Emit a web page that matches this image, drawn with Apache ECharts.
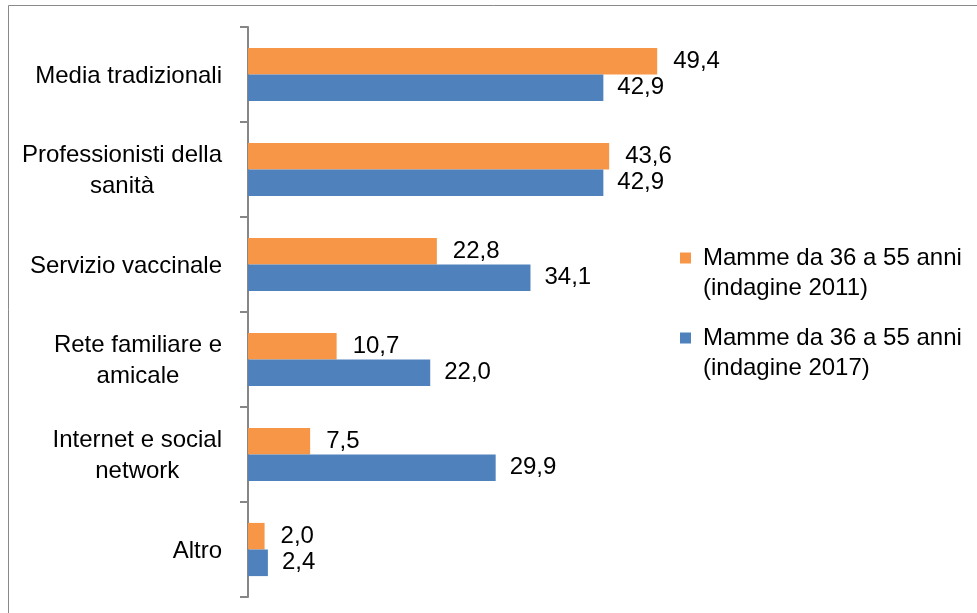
<!DOCTYPE html>
<html>
<head>
<meta charset="utf-8">
<script src="https://cdn.jsdelivr.net/npm/echarts@6/dist/echarts.min.js"></script>
<style>
    html, body { margin: 0; padding: 0; background: #fff; }
    #chart { width: 977px; height: 613px; }
</style>
</head>
<body>
<div id="chart"></div>
<script>
    // categories, top to bottom
    var categories = [
        'Media tradizionali',
        'Professionisti della\nsanità',
        'Servizio vaccinale',
        'Rete familiare e\namicale',
        'Internet e social\nnetwork',
        'Altro'
    ];
    var values2011 = [49.4, 43.6, 22.8, 10.7, 7.5, 2.0];
    var values2017 = [42.9, 42.9, 34.1, 22.0, 29.9, 2.4];
    var name2011 = 'Mamme da 36 a 55 anni\n(indagine 2011)';
    var name2017 = 'Mamme da 36 a 55 anni\n(indagine 2017)';

    var FONT = 'Liberation Sans';
    var FS = 24;
    var orange = '#F79646';
    var blue = '#4F81BD';

    function fmtNum(p) {
        return p.value.toFixed(1).replace('.', ',');
    }

    // blank first line so the icon sits next to the first line of text
    function legendItem(name, top) {
        return {
            left: 680, top: top,
            padding: 0,
            orient: 'vertical',
            data: [name],
            icon: 'rect', itemWidth: 11, itemHeight: 11,
            formatter: function (n) { return '\n' + n; },
            textStyle: { fontFamily: FONT, fontSize: FS, color: '#000', lineHeight: 30, padding: [0, 0, 0, 7] }
        };
    }

    var myChart = echarts.init(document.getElementById('chart'));
    myChart.setOption({
        animation: false,
        backgroundColor: '#fff',
        textStyle: { fontFamily: FONT },
        graphic: [{
            type: 'rect',
            shape: { x: 8.5, y: 5.5, width: 1000, height: 700 },
            style: { fill: 'none', stroke: '#898989', lineWidth: 1 },
            z: 0
        }],
        grid: { left: 248, right: 232, top: 27, bottom: 16 },
        legend: [legendItem(name2011, 213), legendItem(name2017, 293)],
        xAxis: {
            type: 'value',
            min: 0,
            max: 60,
            show: false
        },
        yAxis: {
            type: 'category',
            inverse: true,
            data: categories,
            axisLine: { lineStyle: { color: '#868686', width: 2 } },
            axisTick: { show: true, length: 8, lineStyle: { color: '#868686', width: 2 } },
            axisLabel: {
                margin: 26,
                formatter: function (v) {
                    return v.split('\n').map(function (s) { return '{c|' + s + '}'; }).join('\n');
                },
                rich: {
                    c: { fontFamily: FONT, fontSize: FS, color: '#000', lineHeight: 31, align: 'center', padding: [3, 0, 0, 0] }
                }
            }
        },
        series: [{
            name: name2011,
            type: 'bar',
            data: values2011,
            barGap: '0%',
            barCategoryGap: '44%',
            itemStyle: { color: orange },
            label: { show: true, position: 'right', distance: 16, formatter: fmtNum,
                fontFamily: FONT, fontSize: FS, color: '#000' }
        }, {
            name: name2017,
            type: 'bar',
            data: values2017,
            barGap: '0%',
            barCategoryGap: '44%',
            itemStyle: { color: blue },
            label: { show: true, position: 'right', distance: 14, formatter: fmtNum,
                fontFamily: FONT, fontSize: FS, color: '#000' }
        }]
    });
</script>
</body>
</html>
